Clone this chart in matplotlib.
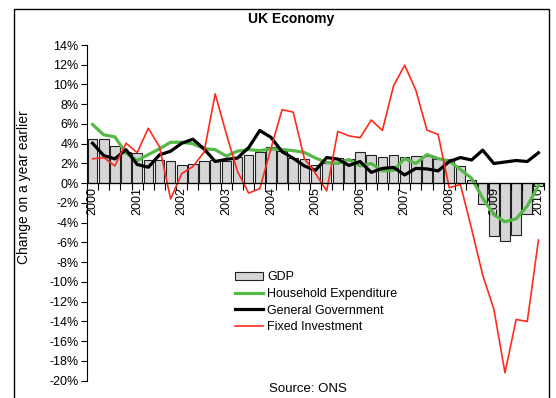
import numpy as np
import matplotlib
matplotlib.use("Agg")
import matplotlib.pyplot as plt
from matplotlib.patches import Patch, Rectangle
from matplotlib.lines import Line2D

plt.rcParams['font.family'] = ['Liberation Sans', 'DejaVu Sans']

# quarterly data, 2000 Q1 .. 2010 Q1 (% change on a year earlier)
years = ['2000', '2001', '2002', '2003', '2004', '2005',
         '2006', '2007', '2008', '2009', '2010']
gdp = [4.43, 4.53, 3.75, 3.2, 3.04, 2.4, 2.33, 2.3, 1.86, 1.98,
       2.26, 2.33, 2.3, 2.65, 2.9, 3.15, 3.65, 3.25, 2.6, 2.48,
       1.86, 2.0, 2.6, 2.5, 3.15, 2.9, 2.7, 2.9, 2.7, 2.75,
       2.75, 2.5, 2.45, 1.7, 0.3, -2.1, -5.3, -5.85, -5.25, -3.1, -0.25]
household = [5.95, 4.9, 4.7, 3.05, 2.3, 2.9, 3.48, 4.15, 4.15, 4.0,
             3.5, 3.4, 2.75, 3.25, 3.4, 3.3, 3.48, 3.41, 3.3, 3.12,
             2.55, 2.1, 2.0, 2.4, 1.75, 2.0, 1.25, 1.3, 2.5, 2.0,
             2.9, 2.5, 2.25, 1.4, 0.5, -1.5, -3.2, -3.9, -3.6, -2.3, -0.25]
government = [4.05, 2.8, 2.47, 3.4, 1.9, 1.62, 2.87, 3.24, 4.05, 4.46,
              3.48, 2.2, 2.42, 2.55, 3.6, 5.34, 4.65, 3.2, 2.53, 1.75,
              1.3, 2.6, 2.45, 1.8, 2.2, 1.1, 1.5, 1.6, 0.84, 1.5,
              1.45, 1.25, 2.2, 2.6, 2.35, 3.35, 2.0, 2.15, 2.3, 2.2, 3.08]
investment = [2.47, 2.6, 1.75, 4.05, 3.1, 5.57, 3.7, -1.59, 0.98, 1.69,
              3.14, 9.05, 5.0, 1.2, -1.0, -0.55, 3.5, 7.45, 7.2, 2.5,
              1.0, -0.78, 5.25, 4.8, 4.6, 6.4, 5.35, 9.85, 11.95, 9.43,
              5.38, 4.94, -0.46, -0.12, -4.6, -9.3, -12.75, -19.2, -13.8, -14.0, -5.75]

W, H = 556, 398
fig = plt.figure(figsize=(W / 100, H / 100), dpi=100)
ax = fig.add_axes([87 / W, 1 - 380.7 / H, 457 / W, (380.7 - 45) / H])

x = np.arange(len(gdp))
green = '#55b947'
red = '#ff2b1c'

ax.bar(x, gdp, width=0.86, color='#d6d6d6', edgecolor='#222222', linewidth=0.8, zorder=1)
ax.plot(x, household, color=green, lw=2.3, zorder=3, solid_joinstyle='round')
ax.plot(x, government, color='black', lw=2.3, zorder=4, solid_joinstyle='round')
ax.plot(x, investment, color=red, lw=1.2, zorder=5)

ax.set_xlim(-0.5, len(gdp) - 0.5)
ax.set_ylim(-20, 14)
yt = np.arange(-20, 15, 2)
ax.set_yticks(yt)
ax.set_yticklabels([f'{v}%' for v in yt], fontsize=9)
ax.tick_params(axis='y', direction='out', length=4, width=0.8, pad=2)

ax.spines['top'].set_visible(False)
ax.spines['right'].set_visible(False)
ax.spines['bottom'].set_position(('data', 0))
ax.spines['bottom'].set_zorder(6)
ax.spines['left'].set_linewidth(0.8)
ax.spines['bottom'].set_linewidth(0.9)

ax.set_xticks(np.arange(0, len(gdp), 4))
ax.set_xticklabels(years, rotation=90, fontsize=9, va='top', ha='center')
ax.set_xticks(np.arange(-0.5, len(gdp), 1), minor=True)
ax.tick_params(axis='x', which='major', length=0, pad=3)
ax.tick_params(axis='x', which='minor', direction='out', length=5, width=0.8)

ax.set_ylabel('Change on a year earlier', fontsize=10)
ax.yaxis.set_label_coords(-0.1225, 0.577)

fig.text(291 / W, 1 - 19.5 / H, 'UK Economy', ha='center', va='center',
         fontsize=10, fontweight='bold')
fig.text(308 / W, 1 - 389 / H, 'Source: ONS', ha='center', va='center', fontsize=9.5)

handles = [Patch(facecolor='#d6d6d6', edgecolor='#222222', linewidth=0.8),
           Line2D([], [], color=green, lw=2.3),
           Line2D([], [], color='black', lw=2.3),
           Line2D([], [], color=red, lw=1.2)]
labels = ['GDP', 'Household Expenditure', 'General Government', 'Fixed Investment']
fig.legend(handles, labels, loc='upper left', bbox_to_anchor=(235 / W, 1 - 271 / H),
           frameon=False, fontsize=9, handlelength=2.2, handleheight=0.6,
           handletextpad=0.35, labelspacing=0.38, borderpad=0, borderaxespad=0)

fig.add_artist(Rectangle((14 / W, -0.1), (549 - 14) / W, 1.1 - 8.5 / H,
                         transform=fig.transFigure, fill=False, ec='black', lw=1))

fig.savefig('out.png', dpi=100)
